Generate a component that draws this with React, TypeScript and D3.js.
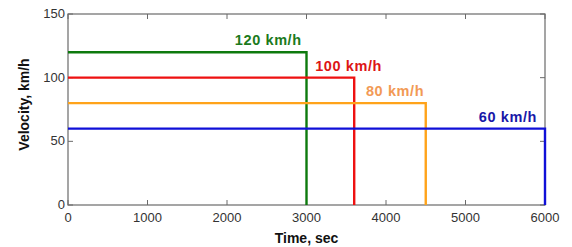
import * as d3 from "d3";

// speed -> time to cover 100 km
const speeds = [120, 100, 80, 60];
const stopTimes = [3000, 3600, 4500, 6000];
const lineColors = ["#0d7a0d", "#ee1111", "#ffa31a", "#1010d8"];
const labelColors = ["#1c7a1c", "#dd1515", "#f29a55", "#1818a8"];
const labels = ["120 km/h", "100 km/h", "80 km/h", "60 km/h"];
// where each label ends, in seconds
const labelEnds = [2940, 3950, 4480, 5900];
const xTicks = [0, 1000, 2000, 3000, 4000, 5000, 6000];
const yTicks = [0, 50, 100, 150];

export default function App() {
  const W = 572;
  const H = 247;
  const margin = { top: 14, right: 27, bottom: 42, left: 68 };
  const iW = W - margin.left - margin.right;
  const iH = H - margin.top - margin.bottom;

  const x = d3.scaleLinear().domain([0, 6000]).range([0, iW]);
  const y = d3.scaleLinear().domain([0, 150]).range([iH, 0]);

  const line = d3
    .line<[number, number]>()
    .x((d) => x(d[0]))
    .y((d) => y(d[1]));

  const axisColor = "#6a6a6a";
  const font = "Arial, 'Liberation Sans', sans-serif";

  return (
    <svg
      width={W}
      height={H}
      style={{ position: "absolute", left: 0, top: 0, background: "white" }}
      fontFamily={font}
    >
      <g transform={`translate(${margin.left},${margin.top})`}>
        {/* frame */}
        <rect x={0} y={0} width={iW} height={iH} fill="none" stroke={axisColor} strokeWidth={1.2} />

        {/* ticks, pointing inward on all four sides */}
        {xTicks.map((t) => (
          <g key={"x" + t}>
            <line x1={x(t)} x2={x(t)} y1={iH} y2={iH - 5} stroke={axisColor} />
            <line x1={x(t)} x2={x(t)} y1={0} y2={5} stroke={axisColor} />
            <text x={x(t)} y={iH + 17} textAnchor="middle" fontSize={13} fill="#333">
              {t}
            </text>
          </g>
        ))}
        {yTicks.map((t) => (
          <g key={"y" + t}>
            <line x1={0} x2={5} y1={y(t)} y2={y(t)} stroke={axisColor} />
            <line x1={iW} x2={iW - 5} y1={y(t)} y2={y(t)} stroke={axisColor} />
            <text x={-3} y={y(t) + 4} textAnchor="end" fontSize={13} fill="#333">
              {t}
            </text>
          </g>
        ))}

        {/* series */}
        {speeds.map((v, i) => (
          <path
            key={"s" + i}
            d={line([
              [0, v],
              [stopTimes[i], v],
              [stopTimes[i], 0],
            ])!}
            fill="none"
            stroke={lineColors[i]}
            strokeWidth={2.4}
          />
        ))}

        {speeds.map((v, i) => (
          <text
            key={"l" + i}
            x={x(labelEnds[i])}
            y={y(v) - 7}
            textAnchor="end"
            fontSize={14.5}
            fontWeight="bold"
            letterSpacing={0.6}
            fill={labelColors[i]}
          >
            {labels[i]}
          </text>
        ))}
      </g>

      {/* axis titles */}
      <text
        x={margin.left + iW / 2}
        y={H - 4}
        textAnchor="middle"
        fontSize={14}
        fontWeight="bold"
        fill="#111"
      >
        Time, sec
      </text>
      <text
        transform={`translate(29,${margin.top + iH / 2 - 5}) rotate(-90)`}
        textAnchor="middle"
        fontSize={14}
        fontWeight="bold"
        fill="#111"
      >
        Velocity, km/h
      </text>
    </svg>
  );
}
